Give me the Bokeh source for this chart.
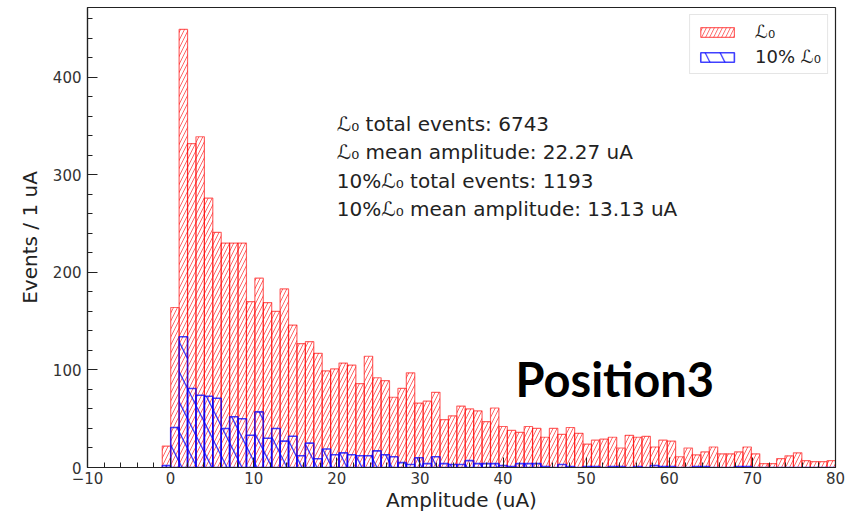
import numpy as np
from bokeh.plotting import figure
from bokeh.models import (Range1d, Label, Legend, LegendItem, SingleIntervalTicker,
                          ColumnDataSource)
from bokeh.embed import file_html
from bokeh.resources import INLINE

# ---------------- data ----------------
bin_start = -1.0
bin_stop = 80.0

l0_counts = [22, 164, 449, 332, 339, 276, 241, 230, 230, 230,
             170, 194, 169, 160, 183, 146, 127, 129, 117, 99,
             101, 107, 105, 86, 114, 92, 89, 72, 81, 97,
             66, 68, 77, 49, 53, 63, 60, 58, 47, 61,
             42, 38, 36, 42, 40, 31, 40, 34, 41, 35,
             24, 28, 29, 31, 20, 33, 31, 32, 21, 28,
             27, 11, 20, 13, 16, 21, 14, 14, 16, 21,
             14, 4, 4, 9, 12, 15, 7, 6, 6, 7]

l10_counts = [2, 41, 134, 81, 74, 73, 71, 40, 52, 50,
              33, 57, 30, 40, 27, 32, 12, 25, 9, 19,
              13, 15, 13, 12, 12, 17, 13, 11, 5, 3,
              10, 4, 11, 4, 3, 3, 7, 4, 4, 4,
              2, 1, 4, 4, 4, 1, 0, 3, 1, 0,
              1, 1, 0, 1, 1, 0, 1, 0, 2, 1,
              1, 0, 0, 1, 1, 0, 0, 0, 1, 1,
              0, 0, 0, 0, 0, 0, 0, 0, 0, 0]

legend_labels = ["\u2112\u2080", "10% \u2112\u2080"]
stats_lines = ["\u2112\u2080 total events: 6743",
               "\u2112\u2080 mean amplitude: 22.27 uA",
               "10%\u2112\u2080 total events: 1193",
               "10%\u2112\u2080 mean amplitude: 13.13 uA"]
stamp_text = "Position3"
x_label = "Amplitude (uA)"
y_label = "Events / 1 uA"

# ---------------- derived ----------------
n = len(l0_counts)
edges = np.linspace(bin_start, bin_stop, n + 1)
src_red = ColumnDataSource(dict(left=edges[:-1], right=edges[1:],
                                top=l0_counts, bottom=[0] * n))
src_blue = ColumnDataSource(dict(left=edges[:-1], right=edges[1:],
                                 top=l10_counts, bottom=[0] * n))

ymax = 1.05 * max(l0_counts)

p = figure(width=848, height=514, x_range=Range1d(-10, 80), y_range=Range1d(0, ymax),
           output_backend="svg", toolbar_location=None,
           min_border_left=87, min_border_right=13, min_border_top=7, min_border_bottom=47)
p.background_fill_color = "white"
p.border_fill_color = "white"
p.outline_line_color = "#222222"
p.outline_line_width = 1.2
p.xgrid.visible = False
p.ygrid.visible = False

r_red = p.quad(left="left", right="right", top="top", bottom="bottom", source=src_red,
               fill_color=None, line_color="red", line_alpha=0.6, line_width=1.2,
               hatch_pattern="/", hatch_color="red", hatch_alpha=0.6,
               hatch_scale=8, hatch_weight=1.0)
r_blue = p.quad(left="left", right="right", top="top", bottom="bottom", source=src_blue,
                fill_color=None, line_color="blue", line_alpha=0.75, line_width=1.6,
                hatch_pattern="\\", hatch_color="blue", hatch_alpha=0.75,
                hatch_scale=30, hatch_weight=1.3)

# axes
for ax in (p.xaxis[0], p.yaxis[0]):
    ax.axis_line_color = "#222222"
    ax.axis_line_width = 1.2
    ax.major_tick_in = 10
    ax.major_tick_out = 0
    ax.minor_tick_in = 5
    ax.minor_tick_out = 0
    ax.major_tick_line_color = "#222222"
    ax.minor_tick_line_color = "#222222"
    ax.major_label_text_font = "DejaVu Sans"
    ax.major_label_text_font_size = "15px"
    ax.major_label_text_color = "#333333"
    ax.axis_label_text_font = "DejaVu Sans"
    ax.axis_label_text_font_size = "20px"
    ax.axis_label_text_font_style = "normal"
    ax.axis_label_text_color = "#222222"

p.xaxis.ticker = SingleIntervalTicker(interval=10, num_minor_ticks=5)
p.yaxis.ticker = SingleIntervalTicker(interval=100, num_minor_ticks=5)
p.xaxis.major_label_overrides = {-10: "\u221210"}
p.xaxis.axis_label = x_label
p.yaxis.axis_label = y_label
p.xaxis.major_label_standoff = 4
p.xaxis.axis_label_standoff = 1
p.yaxis.major_label_standoff = 6
p.yaxis.axis_label_standoff = 8

# legend
legend = Legend(items=[LegendItem(label=legend_labels[0], renderers=[r_red]),
                       LegendItem(label=legend_labels[1], renderers=[r_blue])],
                location="top_right")
legend.label_text_font = "DejaVu Sans"
legend.label_text_font_size = "18px"
legend.label_text_color = "#222222"
legend.border_line_color = "#cccccc"
legend.border_line_width = 1
legend.background_fill_alpha = 0.8
legend.glyph_width = 42
legend.glyph_height = 12
legend.padding = 6
legend.spacing = 4
legend.margin = 7
legend.label_standoff = 17
p.add_layout(legend)

# stats text
stats_x = 20
stats_y = [352, 323, 294, 265]
for txt, yy in zip(stats_lines, stats_y):
    p.add_layout(Label(x=stats_x, y=yy, text=txt, text_font="DejaVu Sans",
                       text_font_size="20px", text_color="#222222",
                       text_baseline="middle", text_align="left"))

p.add_layout(Label(x=41.5, y=90.5, text=stamp_text, text_font="Lato",
                   text_font_size="47px", text_font_style="bold", text_color="black",
                   text_baseline="middle", text_align="left"))

open("out.html", "w").write(file_html(p, INLINE))
